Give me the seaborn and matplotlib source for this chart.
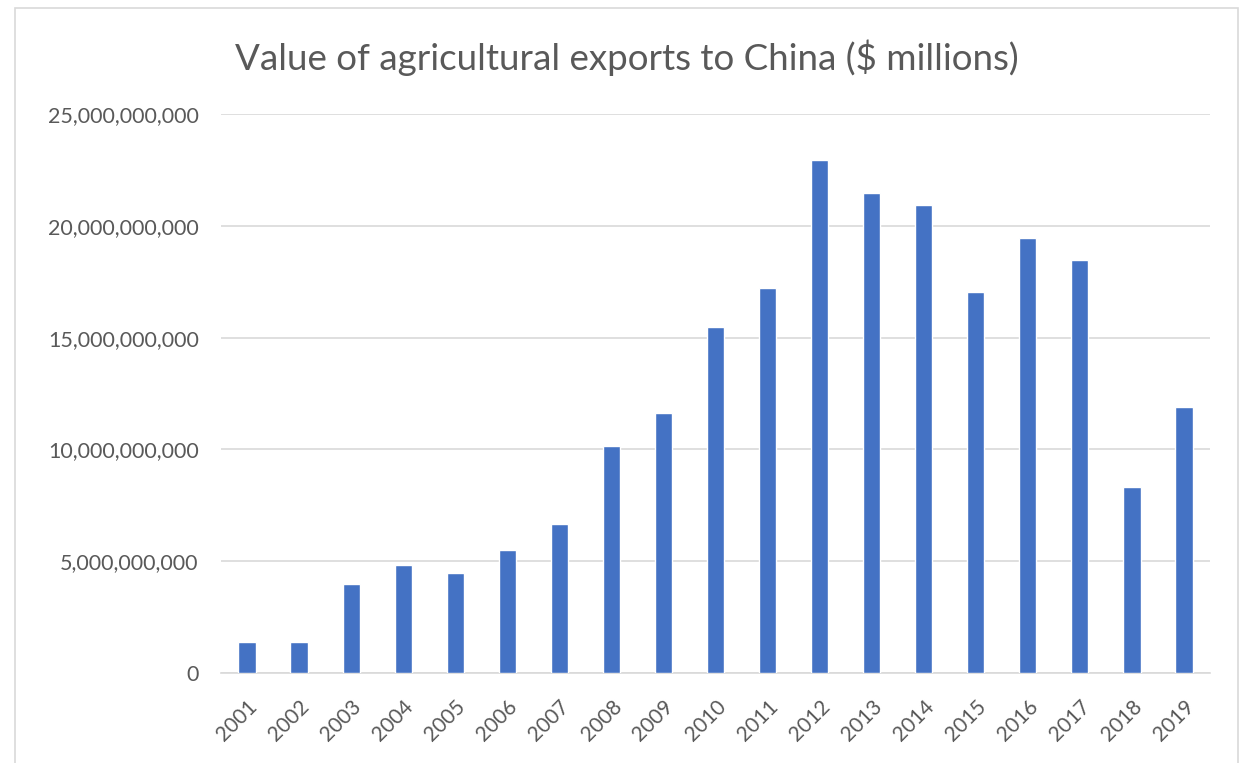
import matplotlib
matplotlib.use("Agg")
import matplotlib.pyplot as plt
import seaborn as sns
import pandas as pd
from matplotlib.patches import Rectangle
from matplotlib.ticker import FuncFormatter

years = ["2001", "2002", "2003", "2004", "2005", "2006", "2007", "2008", "2009", "2010",
         "2011", "2012", "2013", "2014", "2015", "2016", "2017", "2018", "2019"]
values = [1.37e9, 1.37e9, 3.97e9, 4.85e9, 4.46e9, 5.52e9, 6.68e9, 10.15e9, 11.63e9, 15.49e9,
          17.23e9, 22.96e9, 21.48e9, 20.92e9, 17.05e9, 19.46e9, 18.49e9, 8.33e9, 11.90e9]
title = "Value of agricultural exports to China ($ millions)"

sns.set_theme(style="white")
plt.rcParams['font.family'] = ['Lato', 'DejaVu Sans']

df = pd.DataFrame({"year": years, "value": values})

fig = plt.figure(figsize=(12.43, 7.63), dpi=100)
fig.patch.set_facecolor("white")
ax = fig.add_axes([221/1243, 1 - 673/763, (1210 - 221)/1243, (673 - 114)/763])

sns.barplot(data=df, x="year", y="value", color="#4472C4", width=0.33,
            saturation=1, ax=ax, zorder=3)

ax.set_ylim(0, 25e9)
ax.set_xlim(-0.5, len(years) - 0.5)
ax.set_yticks([0, 5e9, 10e9, 15e9, 20e9, 25e9])
ax.yaxis.set_major_formatter(FuncFormatter(lambda v, p: f"{int(v):,}"))
ax.grid(axis="y", color="#d9d9d9", linewidth=1.2, zorder=0)
ax.set_axisbelow(True)
for s in ["top", "right", "left"]:
    ax.spines[s].set_visible(False)
ax.spines["bottom"].set_color("#d9d9d9")
ax.spines["bottom"].set_linewidth(1.2)
ax.set_xlabel("")
ax.set_ylabel("")
ax.tick_params(axis="y", length=0, pad=16, labelsize=15.5, labelcolor="#595959")
ax.tick_params(axis="x", length=0, pad=17, labelsize=15, labelcolor="#595959")
for lbl in ax.get_xticklabels():
    lbl.set_rotation(45)
    lbl.set_ha("right")
    lbl.set_rotation_mode("anchor")

fig.text(627/1243, 1 - 58/763, title, ha="center", va="center",
         fontsize=26.5, color="#595959")

fig.patches.append(Rectangle((15/1243, -0.01), (1238 - 15)/1243, 1 - 8/763 + 0.01,
                             transform=fig.transFigure, fill=False,
                             edgecolor="#d9d9d9", linewidth=1.2))

fig.savefig("out.png", dpi=100, facecolor="white")
